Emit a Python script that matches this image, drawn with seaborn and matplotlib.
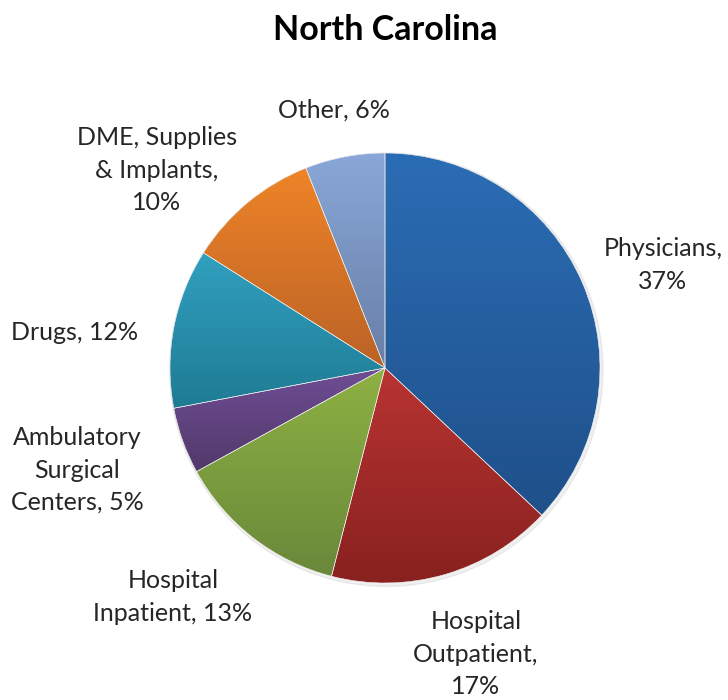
import numpy as np
import matplotlib
matplotlib.use("Agg")
import matplotlib.pyplot as plt
import matplotlib.colors as mcolors
import seaborn as sns

# data
categories = ["Physicians", "Hospital\nOutpatient", "Hospital\nInpatient",
              "Ambulatory\nSurgical\nCenters", "Drugs", "DME, Supplies\n& Implants", "Other"]
shares = [37, 17, 13, 5, 12, 10, 6]
label_text = ["Physicians,\n37%", "Hospital\nOutpatient,\n17%", "Hospital\nInpatient, 13%",
              "Ambulatory\nSurgical\nCenters, 5%", "Drugs, 12%", "DME, Supplies\n& Implants,\n10%",
              "Other, 6%"]

# excel-like gradient colours (top -> bottom of each slice)
top_colors = ["#2B6DB5", "#B83432", "#8EB143", "#6E4E95", "#31A0C0", "#EF8428", "#89A7D8"]
bottom_colors = ["#1F508A", "#88211F", "#6A883A", "#523869", "#1F7B94", "#BA6226", "#687FA6"]

# label centres in pixels (x from left, y from top), pie centre (385, 368), radius 215
label_px = [(663, 265), (476, 654), (173, 597), (77, 470), (75, 333), (157, 170), (334, 110)]

sns.set_style("white")
plt.rcParams["font.family"] = ["Lato", "DejaVu Sans"]

W, H = 728, 700
cx, cy, R = 385, 368, 215
fig = plt.figure(figsize=(W / 100, H / 100), dpi=100)
ax = fig.add_axes([0, 0, 1, 1])

palette = sns.color_palette(top_colors)
wedges, _ = ax.pie(shares, colors=palette, startangle=90, counterclock=False,
                   radius=1, wedgeprops=dict(edgecolor="#f2f2f2", linewidth=0.4))

# very subtle shadow behind pie
shadow = plt.Circle((0.006, -0.008), 1.008, color="#000000", alpha=0.06, zorder=0)
ax.add_patch(shadow)

for w, c1, c2 in zip(wedges, top_colors, bottom_colors):
    bb = w.get_path().get_extents(w.get_patch_transform())
    a = np.array(mcolors.to_rgb(c1))
    b = np.array(mcolors.to_rgb(c2))
    t = np.linspace(0, 1, 256)[:, None, None]
    grad = a * (1 - t) + b * t
    im = ax.imshow(grad, extent=(bb.x0, bb.x1, bb.y0, bb.y1), origin="upper",
                   aspect="auto", zorder=w.get_zorder() + 0.1, interpolation="bilinear")
    im.set_clip_path(w)

# redraw edges on top
for w in wedges:
    w.set_zorder(3)
    w.set_facecolor("none")

for txt, (px, py) in zip(label_text, label_px):
    ax.text((px - cx) / R, (cy - py) / R, txt, ha="center", va="center",
            multialignment="center", fontsize=18, color="#262626", linespacing=1.5)

ax.set_xlim(-cx / R, (W - cx) / R)
ax.set_ylim((cy - H) / R, cy / R)
ax.set_aspect("auto")
ax.axis("off")

fig.text(385 / W, 1 - 30 / H, "North Carolina", ha="center", va="center",
         fontsize=24.5, fontweight="bold", color="#000000")

fig.savefig("out.png", dpi=100, facecolor="white")
